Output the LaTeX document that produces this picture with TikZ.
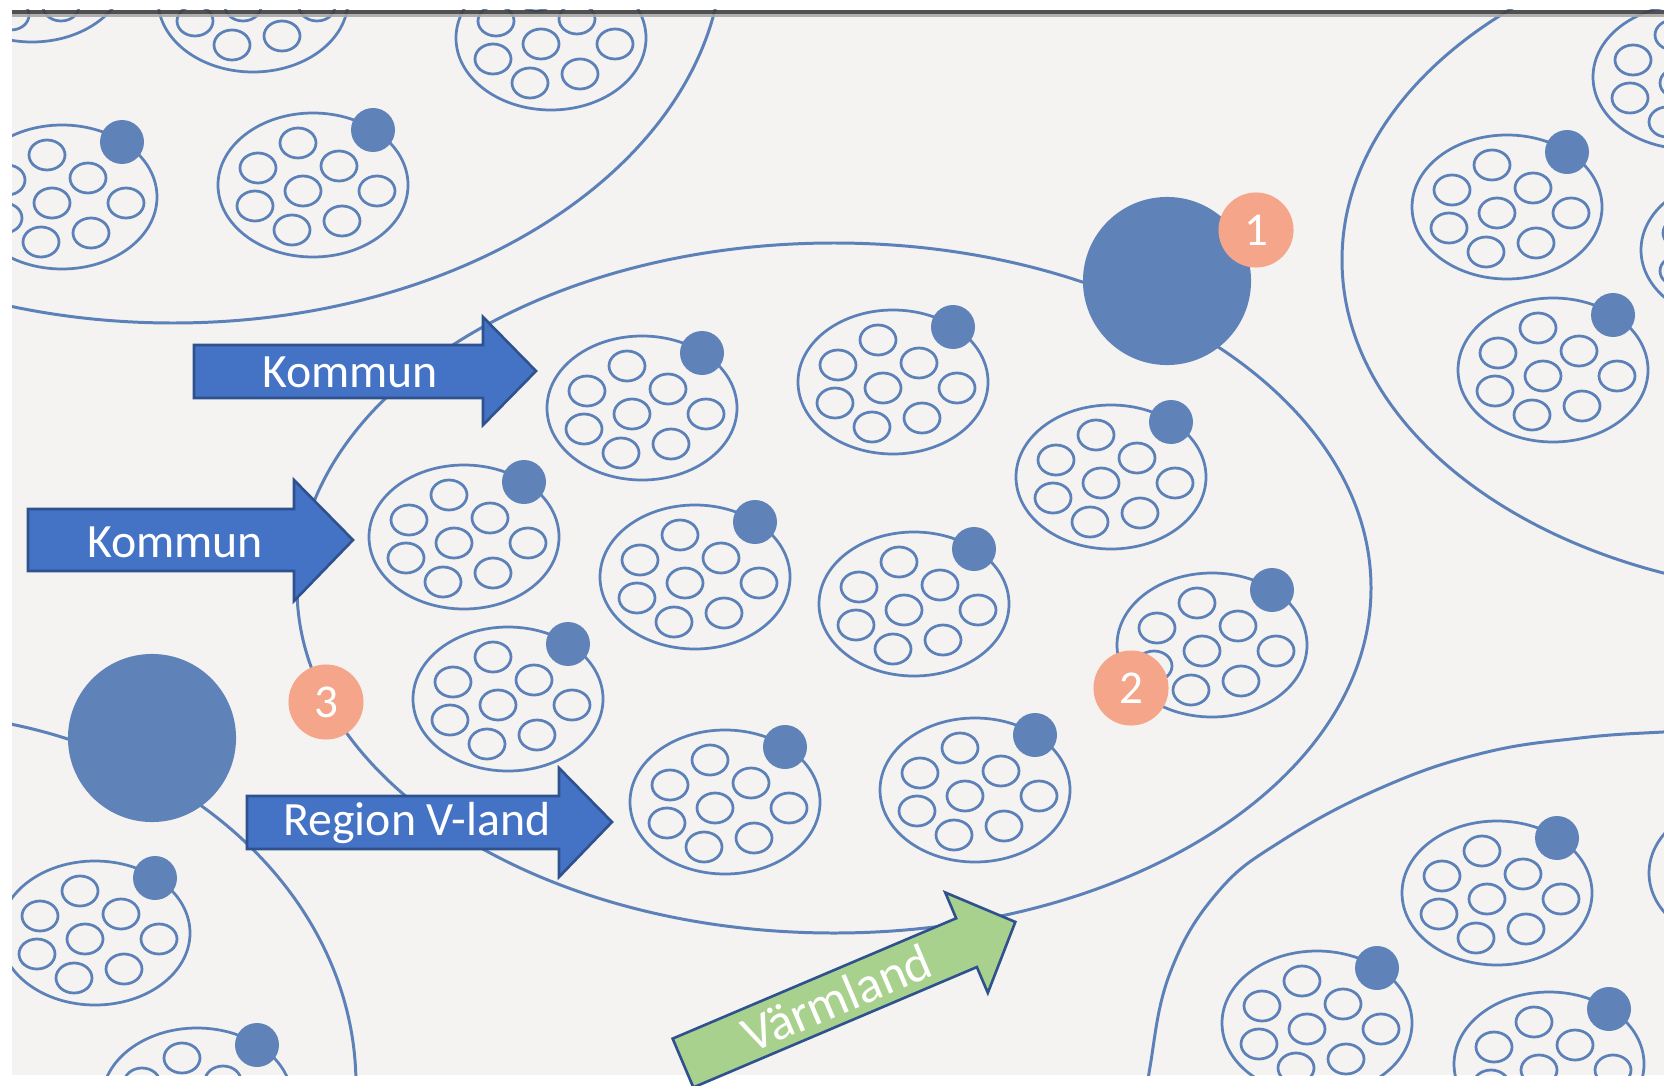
\documentclass[tikz,border=0pt]{standalone}
\usepackage{fontspec}
\setmainfont{Carlito}
\definecolor{bgc}{RGB}{244,243,241}
\definecolor{linec}{RGB}{92,128,184}
\definecolor{dotc}{RGB}{95,131,185}
\definecolor{badgec}{RGB}{245,166,138}
\definecolor{arrowblue}{RGB}{68,114,196}
\definecolor{arrowedge}{RGB}{47,82,143}
\definecolor{arrowgreen}{RGB}{169,209,142}
\definecolor{bardark}{RGB}{64,64,64}
\definecolor{barlight}{RGB}{168,168,168}
\tikzset{
  ring/.style={draw=linec, line width=0.78pt},
  regionline/.style={draw=linec, line width=0.85pt},
  cluster/.pic={
    \draw[ring] (0,0) ellipse [x radius=95, y radius=72];
    \foreach \dx/\dy in {-15/-42, -55/-17, 26/-19, -10/6, 64/6, -58/21, -21/45, 29/36}
      \draw[ring] (\dx,\dy) ellipse [x radius=18, y radius=15];
    \fill[dotc] (60,-55) circle [radius=22];
  },
  hub/.style={circle, fill=dotc, minimum size=1.68cm, inner sep=0pt},
  badge/.style={circle, fill=badgec, text=white, minimum size=0.75cm, inner sep=0pt, font=\fontsize{13.4pt}{16pt}\selectfont},
  bluearrow/.style={fill=arrowblue, draw=arrowedge, line width=0.75pt},
  greenarrow/.style={fill=arrowgreen, draw=arrowedge, line width=0.75pt},
  lbl/.style={text=white, font=\fontsize{13.6pt}{16pt}\selectfont, inner sep=0pt},
  glbl/.style={text=white, font=\fontsize{14.6pt}{17pt}\selectfont, inner sep=0pt},
}
\begin{document}
\begin{tikzpicture}[x=0.01cm, y=-0.01cm]
\useasboundingbox (0,0) rectangle (1664,1085);
\fill[white] (0,0) rectangle (1664,1085);
\fill[bgc] (12,10) rectangle (1664,1075);
\begin{scope}
  \clip (12,10) rectangle (1664,1075);
  % region outlines
  \draw[regionline] (173,-55) ellipse [x radius=550, y radius=378];
  \draw[regionline] (834,588) ellipse [x radius=537, y radius=345];
  \draw[regionline] (-100,1085) ellipse [x radius=456, y radius=372];
  \draw[regionline] (1842,260) ellipse [x radius=500, y radius=335];
  \draw[regionline] plot[smooth, tension=0.7] coordinates {(1146,1110) (1150,1067) (1170,973) (1217,893) (1283,840) (1383,787) (1483,753) (1580,738) (1663,732) (1720,730)};
  % clusters
  \foreach \cx/\cy [count=\i] in {642/408, 893/382, 1111/477, 464/537, 695/577, 914/604, 1212/645, 508/699, 725/802, 975/790,
      62/197, 313/185, 253/0, 551/38, 32/-30, 95/933, 197/1100,
      1507/207, 1553/370, 1688/77, 1736/250, 1497/893, 1317/1023, 1549/1064, 1744/873}
    \pic (cl\i) at (\cx,\cy) {cluster};
  % hubs
  \node[hub] (hubA) at (1167,281) {};
  \node[hub] (hubB) at (152,738) {};
\end{scope}
% arrows
\draw[bluearrow] (194,345) -- (483,345) -- (483,317) -- (536,371) -- (483,425) -- (483,398) -- (194,398) -- cycle;
\node[lbl] (kommun1) at (350,372) {Kommun};
\draw[bluearrow] (28,509) -- (294,509) -- (294,480) -- (353,540) -- (294,601) -- (294,571) -- (28,571) -- cycle;
\node[lbl] (kommun2) at (175,542) {Kommun};
\draw[bluearrow] (247,796) -- (559,796) -- (559,768) -- (612,822) -- (559,877) -- (559,849) -- (247,849) -- cycle;
\node[lbl] (regionv) at (417,823) {Region V-land};
\begin{scope}[shift={(683,1063)}, rotate=23]
  \draw[greenarrow] (0,-26.5) -- (308,-26.5) -- (308,-54.5) -- (361,0) -- (308,54.5) -- (308,26.5) -- (0,26.5) -- cycle;
  \node[glbl, rotate=23] (varmland) at (167,0) {Värmland};
\end{scope}
% badges
\node[badge] (n1) at (1256,230) {1};
\node[badge] (n2) at (1131,688) {2};
\node[badge] (n3) at (326,702) {3};
% top bar
\fill[bardark, opacity=0.9] (12,10) rectangle (1664,14);
\fill[barlight, opacity=0.9] (12,14) rectangle (1664,17.3);
\end{tikzpicture}
\end{document}
